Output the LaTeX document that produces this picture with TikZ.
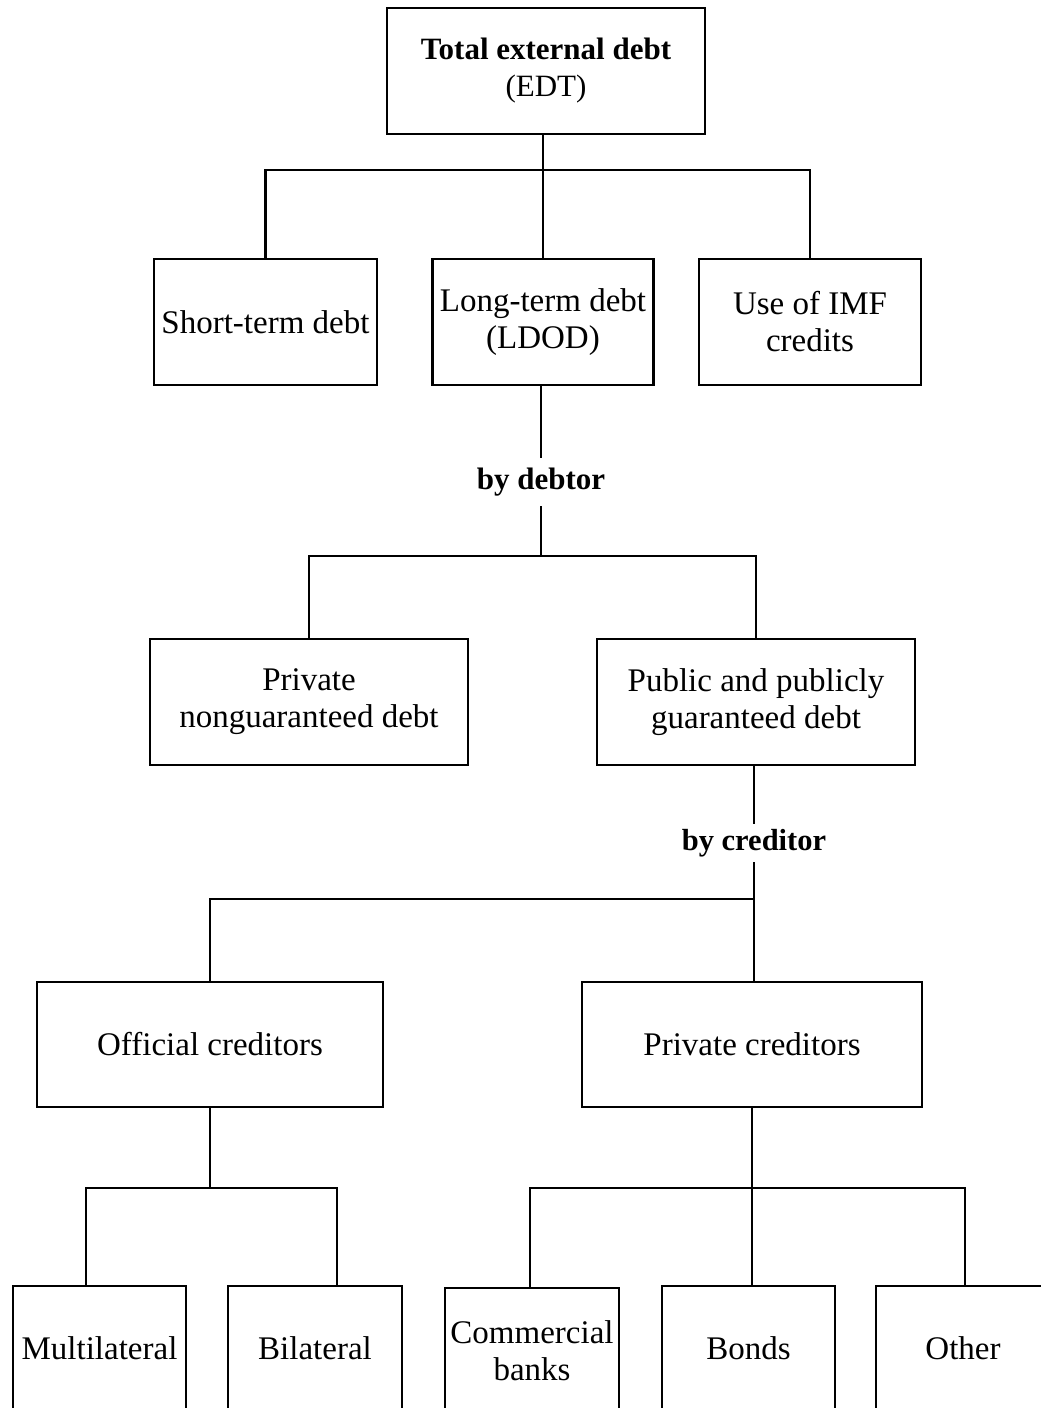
\documentclass[tikz,border=0pt]{standalone}
\usepackage{fontspec}
\setmainfont{Liberation Serif}
\begin{document}
\begin{tikzpicture}[x=1pt,y=-1pt,
  box/.style={draw, line width=2.4pt, inner sep=0pt, align=center,
    font=\fontsize{33}{37}\selectfont, minimum height=126pt},
  link/.style={line width=2.2pt},
  lbl/.style={font=\bfseries\fontsize{31}{37}\selectfont, inner xsep=0pt}]
\useasboundingbox (0,0) rectangle (1041,1408);
\clip (0,0) rectangle (1041,1408);
\fill[white] (0,0) rectangle (1041,1408);

\coordinate (bar1) at (0,170);
\coordinate (bar2) at (0,556);
\coordinate (bar3) at (0,899);
\coordinate (bar4) at (0,1188);
\coordinate (mulj) at (86,1188);
\coordinate (bilj) at (337,1188);
\coordinate (comj) at (530,1188);
\coordinate (othj) at (965,1188);

\node[box, minimum width=318pt, font=\fontsize{31}{37}\selectfont] (edt) at (546,71) {\textbf{Total external debt}\\(EDT)};
\node[box, minimum width=223pt] (std) at (265.5,322) {Short-term debt};
\node[box, minimum width=221pt] (ltd) at (543,322) {Long-term debt\\(LDOD)};
\node[box, minimum width=222pt] (imf) at (810,322) {Use of IMF\\credits};
\node[lbl, inner ysep=10pt] (bydebtor) at (541,482) {by debtor};
\node[box, minimum width=318pt] (pnd) at (309,702) {Private\\nonguaranteed debt};
\node[box, minimum width=318pt] (ppg) at (756,702) {Public and publicly\\guaranteed debt};
\node[lbl, font=\bfseries\fontsize{30.5}{37}\selectfont, inner ysep=5pt] (bycred) at (754,843) {by creditor};
\node[box, minimum width=346pt, minimum height=125pt] (off) at (210,1044.5) {Official creditors};
\node[box, minimum width=340pt, minimum height=125pt] (prc) at (752,1044.5) {Private creditors};
\node[box, minimum width=173pt, minimum height=125pt] (mul) at (99.5,1348.5) {Multilateral};
\node[box, minimum width=174pt, minimum height=125pt] (bil) at (315,1348.5) {Bilateral};
\node[box, minimum width=174pt, minimum height=125pt] (com) at (532,1350.5) {Commercial\\banks};
\node[box, minimum width=173pt, minimum height=125pt] (bon) at (748.5,1348.5) {Bonds};
\node[box, minimum width=174pt, minimum height=125pt] (oth) at (963,1348.5) {Other};

% level 1
\draw[link] (edt.south -| ltd.north) -- (ltd.north);
\draw[link] (std.north) -- (std.north |- bar1) -- (imf.north |- bar1) -- (imf.north);
% by debtor
\draw[link] (ltd.south -| bydebtor.north) -- (bydebtor.north);
\draw[link] (bydebtor.south) -- (bydebtor.south |- bar2);
\draw[link] (pnd.north) -- (pnd.north |- bar2) -- (ppg.north |- bar2) -- (ppg.north);
% by creditor
\draw[link] (ppg.south -| bycred.north) -- (bycred.north);
\draw[link] (bycred.south) -- (prc.north -| bycred.south);
\draw[link] (off.north) -- (off.north |- bar3) -- (bycred.south |- bar3);
% official
\draw[link] (off.south) -- (off.south |- bar4);
\draw[link] (mul.north -| mulj) -- (mulj) -- (bilj) -- (bil.north -| bilj);
% private
\draw[link] (prc.south) -- (prc.south |- bon.north);
\draw[link] (com.north -| comj) -- (comj) -- (othj) -- (oth.north -| othj);
\end{tikzpicture}
\end{document}
